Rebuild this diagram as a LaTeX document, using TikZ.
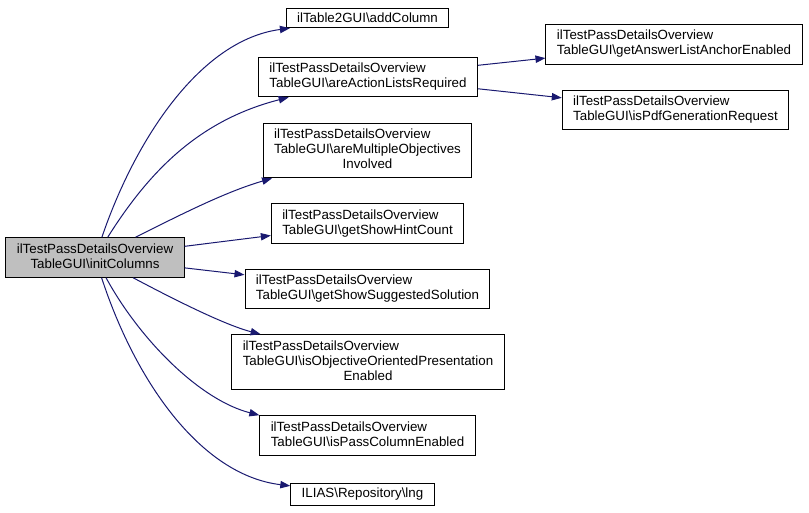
\documentclass[tikz,border=0pt]{standalone}
\usepackage{fontspec}
\setmainfont{Liberation Sans}
\usepackage{tikz}
\usetikzlibrary{arrows.meta}

\newcommand{\bsl}{\textbackslash}
\newcommand{\twoline}[2]{\begin{tabular}{@{}l@{}}#1\\\multicolumn{1}{@{}c@{}}{#2}\end{tabular}}
\newcommand{\threeline}[3]{\begin{tabular}{@{}l@{}}#1\\#2\\\multicolumn{1}{@{}c@{}}{#3}\end{tabular}}

\tikzset{
  fnbox/.style={draw=black, fill=white, line width=0.75pt, inner xsep=8.2pt, inner ysep=3.6pt,
    font=\fontsize{10}{11.25}\selectfont},
  rootbox/.style={fnbox, fill=black!25},
  call/.style={draw={rgb,255:red,25;green,25;blue,112}, line width=0.75pt,
    -{Triangle[length=7.5pt,width=5.5pt]}}
}

\begin{document}
\begin{tikzpicture}[x=0.75pt,y=-0.75pt]
    \useasboundingbox (0,0) rectangle (809,513);
    \node[rootbox] (init) at (95,257.5) {\twoline{ilTestPassDetailsOverview}{TableGUI\bsl initColumns}};
    \node[fnbox] (addcol) at (367.5,18) {ilTable2GUI\bsl addColumn};
    \node[fnbox] (actlists) at (368,77) {\twoline{ilTestPassDetailsOverview}{TableGUI\bsl areActionListsRequired}};
    \node[fnbox] (multobj) at (367.5,150.5) {\threeline{ilTestPassDetailsOverview}{TableGUI\bsl areMultipleObjectives}{Involved}};
    \node[fnbox] (hintcount) at (367.5,223.5) {\twoline{ilTestPassDetailsOverview}{TableGUI\bsl getShowHintCount}};
    \node[fnbox] (suggsol) at (367.5,289) {\twoline{ilTestPassDetailsOverview}{TableGUI\bsl getShowSuggestedSolution}};
    \node[fnbox] (objpres) at (368,362) {\threeline{ilTestPassDetailsOverview}{TableGUI\bsl isObjectiveOrientedPresentation}{Enabled}};
    \node[fnbox] (passcol) at (367.5,435.5) {\twoline{ilTestPassDetailsOverview}{TableGUI\bsl isPassColumnEnabled}};
    \node[fnbox] (lng) at (362.5,494.5) {ILIAS\bsl Repository\bsl lng};
    \node[fnbox] (anchor) at (674,44.5) {\twoline{ilTestPassDetailsOverview}{TableGUI\bsl getAnswerListAnchorEnabled}};
    \node[fnbox] (pdfgen) at (675.5,110) {\twoline{ilTestPassDetailsOverview}{TableGUI\bsl isPdfGenerationRequest}};
    % calls from initColumns
    \draw[call] (init) .. controls (135,140) and (200,40) .. (addcol);
    \draw[call] (init) .. controls (150,170) and (200,120) .. (actlists);
    \draw[call] (init) .. controls (180,215) and (225,192) .. (multobj);
    \draw[call] (init) -- (hintcount);
    \draw[call] (init) -- (suggsol);
    \draw[call] (init) .. controls (175,300) and (225,325) .. (objpres);
    \draw[call] (init) .. controls (140,340) and (200,400) .. (passcol.north west);
    \draw[call] (init) .. controls (135,380) and (200,475) .. (lng);
    % calls from areActionListsRequired
    \draw[call] (actlists) -- (anchor);
    \draw[call] (actlists) -- (pdfgen);
\end{tikzpicture}
\end{document}
